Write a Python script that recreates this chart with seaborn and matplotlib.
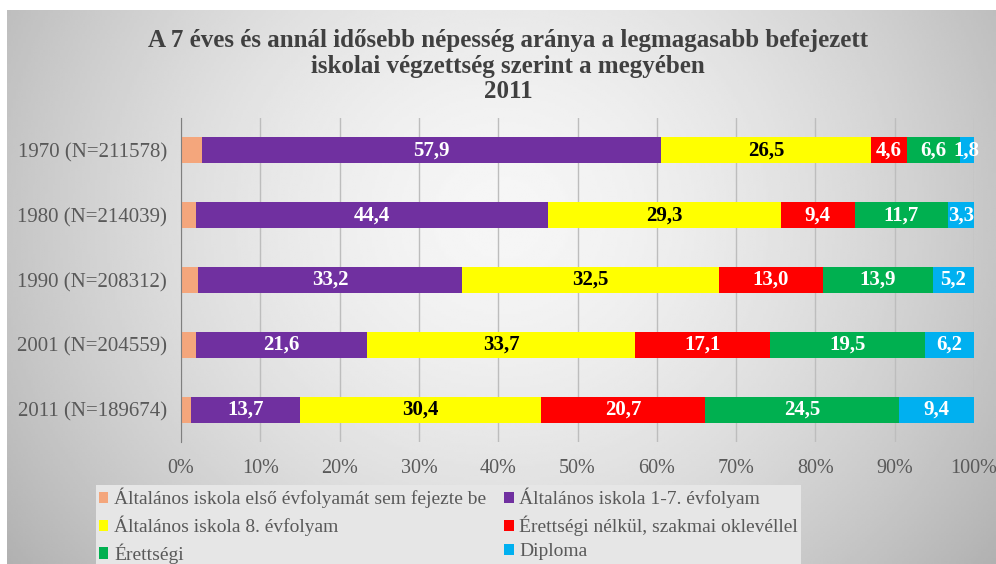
import numpy as np
import pandas as pd
import matplotlib
matplotlib.use('Agg')
import matplotlib.pyplot as plt
import seaborn as sns
from matplotlib.patches import Patch

# adatok (%), az első kategória = 100 - a többi összege
evek = ['1970 (N=211578)', '1980 (N=214039)', '1990 (N=208312)',
        '2001 (N=204559)', '2011 (N=189674)']
kategoriak = ['Általános iskola első évfolyamát sem fejezte be',
              'Általános iskola 1-7. évfolyam',
              'Általános iskola 8. évfolyam',
              'Érettségi nélkül, szakmai oklevéllel',
              'Érettségi',
              'Diploma']
elso_sem = [2.6, 1.9, 2.2, 1.9, 1.3]
alt_1_7 = [57.9, 44.4, 33.2, 21.6, 13.7]
alt_8 = [26.5, 29.3, 32.5, 33.7, 30.4]
szakmai = [4.6, 9.4, 13.0, 17.1, 20.7]
erettsegi = [6.6, 11.7, 13.9, 19.5, 24.5]
diploma = [1.8, 3.3, 5.2, 6.2, 9.4]

szinek = ['#F4A67C', '#7030A0', '#FFFF00', '#FF0000', '#00B050', '#00B0F0']
felirat_szin = [None, 'white', 'black', 'white', 'white', 'white']

df = pd.DataFrame({'ev': evek})
for k, v in zip(kategoriak, [elso_sem, alt_1_7, alt_8, szakmai, erettsegi, diploma]):
    df[k] = v
cum = df[kategoriak].cumsum(axis=1)

plt.rcParams['font.family'] = ['Liberation Serif', 'DejaVu Serif']

fig = plt.figure(figsize=(9.96, 5.64), dpi=100)
fig.patch.set_facecolor('white')

# háttér színátmenet
bg = fig.add_axes([7/996, 0, 1 - 7/996, 1 - 10/564], zorder=-10)
xx, yy = np.meshgrid(np.linspace(-1, 1, 400), np.linspace(-1, 1, 240))
r = np.sqrt(xx**2 + (0.6 * (yy + 0.25))**2)
grad = np.clip(0.965 - 0.19 * r**1.6, 0, 1)
bg.imshow(grad, cmap='gray', vmin=0, vmax=1, aspect='auto', extent=[0, 1, 0, 1])
bg.axis('off')

ax = fig.add_axes([181/996, 1 - 442/564, 793/996, 324/564])
ax.set_facecolor('none')

# halmozott sávok: a kumulált összegeket hátulról előre rajzoljuk
for i in reversed(range(len(kategoriak))):
    sns.barplot(x=cum[kategoriak[i]], y=df['ev'], orient='h', color=szinek[i],
                saturation=1, width=0.4, errorbar=None, ax=ax, zorder=3)

for i in range(1, len(kategoriak)):
    k = kategoriak[i]
    for j in range(len(evek)):
        v = df[k][j]
        kozep = cum[k][j] - v / 2
        ax.text(kozep, j, f'{v:.1f}'.replace('.', ','), ha='center', va='center',
                color=felirat_szin[i], fontsize=15, fontweight='bold', zorder=5)

ax.set_xlim(0, 100)
ax.set_ylim(4.5, -0.5)
ax.set_xticks(range(0, 101, 10))
ax.set_xticklabels([f'{t}%' for t in range(0, 101, 10)])
ax.set_xlabel('')
ax.set_ylabel('')
ax.tick_params(axis='both', length=0, labelsize=15, colors='#595959')
ax.tick_params(axis='x', labelsize=14.5, pad=12)
ax.tick_params(axis='y', pad=10)
ax.xaxis.grid(True, color='#BDBDBD', lw=1, zorder=0)
ax.set_axisbelow(True)
for s in ['top', 'right', 'bottom']:
    ax.spines[s].set_visible(False)
ax.spines['left'].set_color('#7F7F7F')
ax.spines['left'].set_zorder(4)

fig.text(0.51, 1 - 29/564,
         'A 7 éves és annál idősebb népesség aránya a legmagasabb befejezett\n'
         'iskolai végzettség szerint a megyében\n2011',
         ha='center', va='top', fontsize=18, fontweight='bold', color='#404040',
         linespacing=1.15)

handles = [Patch(facecolor=c, edgecolor='none') for c in szinek]
sorrend = [0, 2, 4, 1, 3, 5]
fig.legend([handles[i] for i in sorrend], [kategoriak[i] for i in sorrend],
           ncol=2, loc='upper left', bbox_to_anchor=(86/996, 1 - 475/564),
           frameon=True, facecolor='#E6E6E6', edgecolor='none', framealpha=1,
           fancybox=False, fontsize=14, labelcolor='#595959',
           handlelength=0.5, handleheight=0.5, handletextpad=0.3,
           columnspacing=0.9, labelspacing=0.38, borderpad=0.15)

fig.savefig('out.png', dpi=100)
